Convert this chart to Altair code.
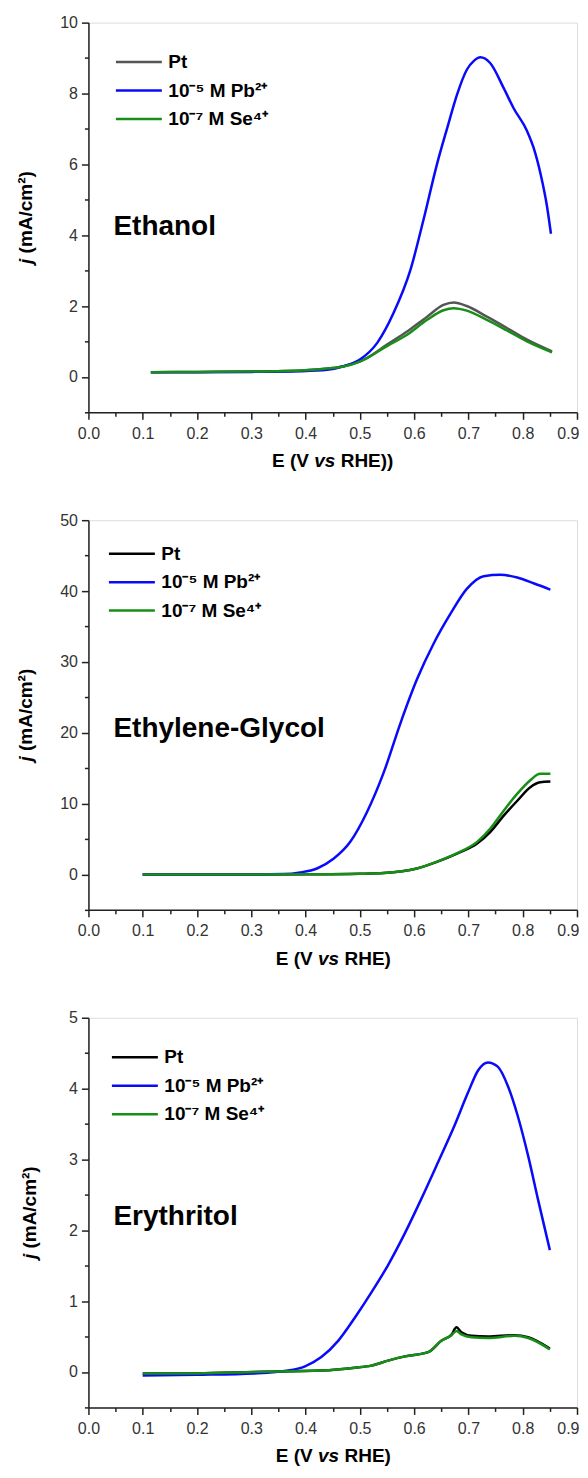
import altair as alt
import pandas as pd

FONT = "Liberation Sans"
SERIES = ["Pt", "10⁻⁵ M Pb²⁺", "10⁻⁷ M Se⁴⁺"]

# ---------------- Ethanol ----------------
eth_pt_E = [0.115, 0.2, 0.3, 0.4, 0.45, 0.47, 0.5, 0.513, 0.55, 0.587, 0.624, 0.654, 0.673, 0.697, 0.734, 0.771, 0.808, 0.854]
eth_pt_j = [0.13, 0.14, 0.15, 0.19, 0.25, 0.30, 0.44, 0.53, 0.91, 1.28, 1.70, 2.03, 2.10, 2.00, 1.70, 1.38, 1.05, 0.72]
eth_pb_E = [0.115, 0.2, 0.3, 0.39, 0.44, 0.47, 0.50, 0.532, 0.562, 0.593, 0.617, 0.642, 0.661, 0.679, 0.697, 0.71, 0.722, 0.74, 0.765, 0.783, 0.808, 0.82, 0.833, 0.845, 0.852]
eth_pb_j = [0.13, 0.13, 0.14, 0.16, 0.20, 0.30, 0.49, 0.96, 1.80, 3.01, 4.42, 6.00, 7.03, 7.97, 8.67, 8.92, 9.02, 8.86, 8.15, 7.59, 6.94, 6.47, 5.72, 4.79, 4.04]
eth_se_E = [0.115, 0.2, 0.3, 0.4, 0.45, 0.47, 0.5, 0.55, 0.587, 0.624, 0.654, 0.673, 0.697, 0.734, 0.771, 0.808, 0.854]
eth_se_j = [0.13, 0.14, 0.15, 0.19, 0.25, 0.29, 0.43, 0.87, 1.19, 1.61, 1.88, 1.94, 1.87, 1.61, 1.31, 1.00, 0.69]

# ---------------- Ethylene-Glycol ----------------
eg_pt_E = [0.1, 0.2, 0.3, 0.4, 0.5, 0.544, 0.605, 0.642, 0.679, 0.716, 0.74, 0.765, 0.79, 0.814, 0.832, 0.851]
eg_pt_j = [0.0, 0.0, 0.0, 0.02, 0.1, 0.2, 0.84, 1.77, 2.94, 4.35, 5.98, 8.3, 10.4, 12.3, 13.0, 13.1]
eg_pb_E = [0.1, 0.2, 0.3, 0.36, 0.39, 0.421, 0.452, 0.482, 0.513, 0.544, 0.575, 0.605, 0.636, 0.667, 0.697, 0.728, 0.759, 0.79, 0.82, 0.851]
eg_pb_j = [0.0, 0.0, 0.0, 0.05, 0.28, 0.84, 2.24, 4.57, 8.78, 14.4, 21.4, 27.5, 32.6, 36.8, 40.3, 42.1, 42.3, 41.9, 41.1, 40.2]
eg_se_E = [0.1, 0.2, 0.3, 0.4, 0.5, 0.544, 0.605, 0.642, 0.679, 0.716, 0.74, 0.765, 0.79, 0.814, 0.832, 0.851]
eg_se_j = [0.0, 0.0, 0.0, 0.02, 0.1, 0.2, 0.84, 1.8, 3.0, 4.6, 6.45, 9.0, 11.4, 13.3, 14.2, 14.2]

# ---------------- Erythritol ----------------
ery_pt_E = [0.1, 0.2, 0.306, 0.429, 0.491, 0.521, 0.552, 0.583, 0.626, 0.65, 0.669, 0.678, 0.687, 0.706, 0.736, 0.785, 0.81, 0.85]
ery_pt_j = [-0.02, -0.02, 0.0, 0.02, 0.06, 0.09, 0.16, 0.22, 0.28, 0.44, 0.53, 0.63, 0.56, 0.51, 0.50, 0.52, 0.49, 0.33]
ery_pb_E = [0.1, 0.2, 0.306, 0.368, 0.399, 0.429, 0.46, 0.491, 0.521, 0.552, 0.583, 0.613, 0.644, 0.675, 0.699, 0.718, 0.736, 0.754, 0.773, 0.791, 0.81, 0.828, 0.85]
ery_pb_j = [-0.05, -0.04, -0.02, 0.02, 0.08, 0.21, 0.44, 0.77, 1.12, 1.51, 1.96, 2.44, 2.96, 3.49, 3.94, 4.26, 4.37, 4.31, 4.03, 3.61, 3.05, 2.44, 1.72]
ery_se_E = [0.1, 0.2, 0.306, 0.429, 0.491, 0.521, 0.552, 0.583, 0.626, 0.65, 0.669, 0.678, 0.687, 0.706, 0.736, 0.785, 0.81, 0.85]
ery_se_j = [-0.02, -0.02, 0.0, 0.02, 0.06, 0.09, 0.16, 0.22, 0.28, 0.44, 0.52, 0.58, 0.53, 0.49, 0.48, 0.51, 0.48, 0.32]

PANEL_NAMES = ["Ethanol", "Ethylene-Glycol", "Erythritol"]
X_TITLES = ["RHE))", "RHE)", "RHE)"]
Y_DOMAINS = [[-1, 10], [-5, 50], [-0.5, 5]]
Y_STEPS = [1, 5, 0.5]
Y_MAJOR_TESTS = ["datum.value % 2 == 0", "round(datum.value/5) % 2 == 0", "round(datum.value*2) % 2 == 0"]
PT_COLORS = ["#555555", "#000000", "#000000"]
BLUE = "#0a0afa"
GREEN = "#178f17"

W, H = 489, 390


def frame(Es, js):
    rows = []
    for order, (name, E, J) in enumerate(zip(SERIES, Es, js)):
        for e, j in zip(E, J):
            rows.append({"E": e, "j": j, "s": name, "o": order})
    return pd.DataFrame(rows)


def txt(s, x, y, size, italic=False, align="left", baseline="alphabetic", angle=None):
    kw = dict(text=s, font=FONT, fontSize=size, fontWeight="bold", align=align,
              baseline=baseline, color="#000000")
    if italic:
        kw["fontStyle"] = "italic"
    if angle is not None:
        kw["angle"] = angle
    return alt.Chart(pd.DataFrame({"k": [0]})).mark_text(**kw).encode(
        x=alt.value(x), y=alt.value(y))


def panel(i, df, legend_xy, label_xy, ytitle_x):
    lo, hi = Y_DOMAINS[i]
    st = Y_STEPS[i]
    n = int(round((hi - lo) / st))
    yvals = [round(lo + k * st, 3) for k in range(n + 1)]
    test = Y_MAJOR_TESTS[i]
    yaxis = alt.Axis(
        values=yvals, title=None, grid=False,
        labelExpr=f"({test}) ? format(datum.value, 'd') : ''",
        tickSize={"condition": {"test": test, "value": 7}, "value": 4},
        domainColor="#222222", domainWidth=1.5, tickColor="#222222", tickWidth=1.5,
        labelFont=FONT, labelFontSize=16, labelColor="#333333", labelPadding=4,
        labelOverlap=False, labelFlush=False)
    xtest = "round(datum.value*20) % 2 == 0"
    last = "datum.value > 0.89"
    xaxis = alt.Axis(
        values=[round(0.05 * k, 2) for k in range(19)], title=None, grid=False,
        labelExpr=f"({xtest}) ? format(datum.value, '.1f') : ''",
        tickSize={"condition": {"test": xtest, "value": 7}, "value": 4},
        labelAlign={"condition": {"test": last, "value": "right"}, "value": "center"},
        labelOffset={"condition": {"test": last, "value": 2}, "value": 0},
        domainColor="#222222", domainWidth=1.5, tickColor="#222222", tickWidth=1.5,
        labelFont=FONT, labelFontSize=16, labelColor="#333333", labelPadding=6,
        labelOverlap=False, labelFlush=False)
    lines = alt.Chart(df).mark_line(strokeWidth=2.5, interpolate="monotone").encode(
        x=alt.X("E:Q", scale=alt.Scale(domain=[0, 0.9], nice=False, zero=False), axis=xaxis),
        y=alt.Y("j:Q", scale=alt.Scale(domain=[lo, hi], nice=False, zero=False), axis=yaxis),
        color=alt.Color("s:N", scale=alt.Scale(domain=SERIES, range=[PT_COLORS[i], BLUE, GREEN]),
                        legend=alt.Legend(
                            orient="none", legendX=legend_xy[0], legendY=legend_xy[1],
                            title=None, symbolType="M-2.3,0H2.3", symbolSize=400,
                            symbolStrokeWidth=2.5, labelFont=FONT, labelFontSize=19,
                            labelFontWeight="bold", labelColor="#000000", padding=0,
                            rowPadding=6.5, labelOffset=18)),
        order=alt.Order("o:Q"),
        detail="s:N",
    )
    c = W / 2
    parts = [lines,
             txt(PANEL_NAMES[i], label_xy[0], label_xy[1], 28)]
    # x title: E (V vs RHE)
    if i == 0:
        left_x, vs_x, right_x = c - 23.8, c - 7.9, c + 8.0
    else:
        left_x, vs_x, right_x = c - 20.0, c - 4.1, c + 11.8
    ty = H + 55
    parts += [txt("E (V", left_x, ty, 19, align="right"),
              txt("vs", vs_x, ty, 19, italic=True, align="center"),
              txt(X_TITLES[i], right_x, ty, 19, align="left")]
    # y title: j (mA/cm2), rotated
    yc = H / 2
    parts += [txt("j", ytitle_x, yc + 46.5, 19, italic=True, align="left", baseline="middle", angle=270),
              txt("(mA/cm²)", ytitle_x, yc + 36.0, 19, align="left", baseline="middle", angle=270)]
    return alt.layer(*parts).properties(width=W, height=H)


p1 = panel(0, frame([eth_pt_E, eth_pb_E, eth_se_E], [eth_pt_j, eth_pb_j, eth_se_j]),
           (39, 28), (25, 213), -62)
p2 = panel(1, frame([eg_pt_E, eg_pb_E, eg_se_E], [eg_pt_j, eg_pb_j, eg_se_j]),
           (32, 22), (25, 217), -62)
p3 = panel(2, frame([ery_pt_E, ery_pb_E, ery_se_E], [ery_pt_j, ery_pb_j, ery_se_j]),
           (35, 28), (25, 207), -58)

chart = alt.vconcat(p1, p2, p3, spacing=39).resolve_scale(color="independent").properties(
    padding={"top": 5, "left": 8.5, "right": 0, "bottom": 0}
).configure_view(stroke="#222222", strokeWidth=1.5).configure(background="white")

chart.save("out.html", embed_options={"renderer": "svg", "actions": False})
